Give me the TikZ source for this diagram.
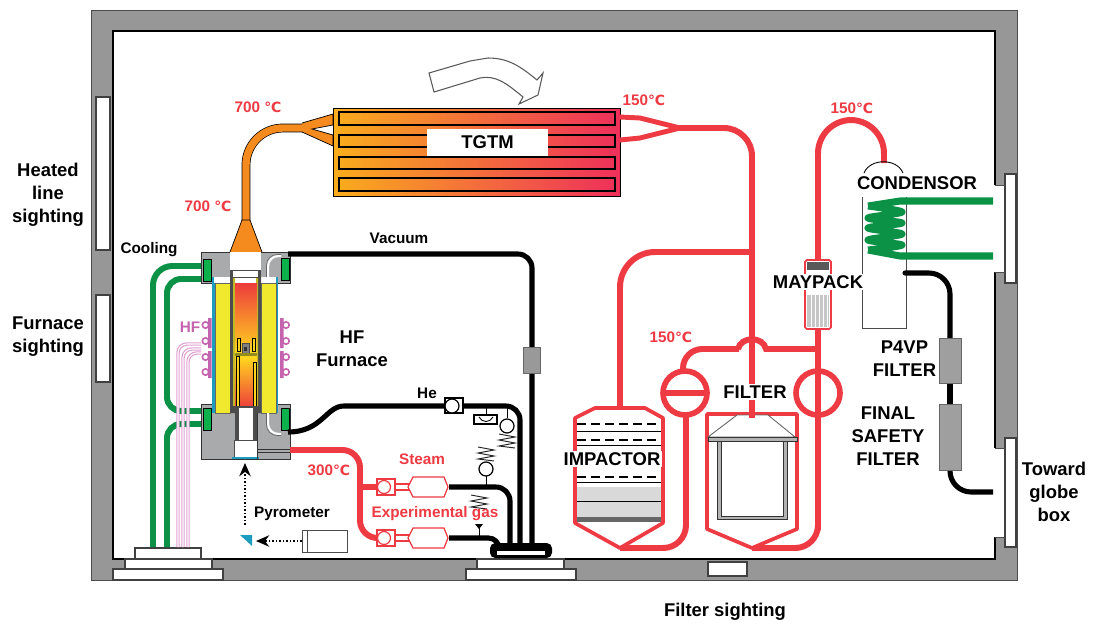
\documentclass[tikz,border=0pt]{standalone}
\usepackage{fontspec}
\setmainfont{Liberation Sans}
\newfontfamily\dgfont{DejaVu Sans}
\usepackage{tikz}
\usetikzlibrary{arrows.meta}
\definecolor{wallgray}{HTML}{979797}
\definecolor{steelgray}{HTML}{A8AAAB}
\definecolor{pipered}{HTML}{EE3A43}
\definecolor{pipegreen}{HTML}{0B9247}
\definecolor{boxgreen}{HTML}{0DB14B}
\definecolor{pipeorange}{HTML}{F58A1F}
\definecolor{hfpink}{HTML}{C663AE}
\definecolor{linepink}{HTML}{E29FD2}
\definecolor{coldorange}{HTML}{F9AD1C}
\definecolor{hotred}{HTML}{EE2F5B}
\definecolor{furnred}{HTML}{EE3B3C}
\definecolor{furnyellow}{HTML}{FFD41F}
\definecolor{heatyellow}{HTML}{F1E92D}
\definecolor{blueline}{HTML}{1C9DBF}
\tikzset{
	bigtext/.style={font=\fontsize{10.5}{12}\selectfont\bfseries,align=center,inner sep=1pt},
	smalltext/.style={font=\fontsize{8.7}{10}\selectfont\bfseries,inner sep=1pt},
	redtext/.style={smalltext,text=pipered},
	redpipe/.style={draw=pipered,line width=3.4pt,rounded corners=8pt},
	blackpipe/.style={draw=black,line width=2.9pt,rounded corners=8pt},
	greenpipe/.style={draw=pipegreen,line width=3.4pt,rounded corners=8pt},
	hfline/.style={draw=linepink,line width=.65pt,double=white,double distance=.65pt,rounded corners=5pt},
	windowbox/.style={draw=black!75,fill=white,line width=.6pt},
	thinred/.style={draw=pipered,line width=.7pt,fill=white},
	thinblack/.style={draw=black!80,line width=.5pt},
	filtergray/.style={draw=black!60,fill=gray!75,line width=.5pt},
	dotarrow/.style={-{Stealth[length=7.5pt,width=6.5pt]},line width=1pt,densely dotted}
}
\def\dg{{\dgfont\fontsize{8}{10}\selectfont ℃}}
\def\gasvalve(#1){%vanne + detendeur
	\draw[thinred] (377,#1-8) rectangle (395,#1+8);
	\draw[thinred] (384,#1) circle (6.5);
	\draw[thinred] (395,#1-3) rectangle (409,#1+3);
	\draw[thinred] (408,#1)--(413,#1-10)--(444,#1-10)--(448,#1)--(444,#1+10)--(413,#1+10)--cycle;
}
\def\spring(#1,#2){\draw[line width=.55pt,black!85,shift={(#1,#2)}] (-8,-7)--(8,-4)--(-8,-1)--(8,2)--(-8,5)--(8,7);}
\begin{document}
\begin{tikzpicture}[x=.02cm,y=-.02cm]
	\useasboundingbox (0,0) rectangle (1093,623);
	\fill[wallgray,draw=black!70,line width=.5pt] (91,10) rectangle (1017,580);%mur
	\draw[fill=white,line width=.7pt] (113,31) rectangle (995,559);
	\foreach \a/\b/\c/\d in{96/97/110/250,96/295/110/382,708/562/747/576,1005/174/1016/283,1005/438/1016/547}
		\draw[windowbox] (\a,\b) rectangle (\c,\d);
	\fill[white] (993,185) rectangle (1005,272) (993,448) rectangle (1005,537);
	\draw[windowbox] (1005,174) rectangle (1016,283) (1005,438) rectangle (1016,547);
	\draw[black!70,line width=.5pt] (995,185)--(1005,185) (995,272)--(1005,272) (995,448)--(1005,448) (995,537)--(1005,537);
	\draw[windowbox] (135,548) rectangle (201,559) (125,559) rectangle (212,569) (113,569) rectangle (223,580);
	\draw[windowbox] (477,559) rectangle (564,569) (466,569) rectangle (576,580);
	%--- eau de refroidissement
	\draw[greenpipe,rounded corners=11pt] (203,266)--(153,266)--(153,547);
	\draw[greenpipe] (203,279)--(167,279)--(167,411)--(203,411);
	\draw[greenpipe] (203,424)--(167,424)--(167,547);
	\foreach \y/\x in{344/178,349/183,353/188} \draw[hfline] (201,\y)--(\x,\y)--(\x,547);
	%--- ligne haute : orange
	\draw[black,line width=.4pt,double=pipeorange,double distance=4.2pt,rounded corners=21pt] (246,224)--(246,128)--(304,128);
	\draw[fill=pipeorange,line width=.4pt] (302,123)--(333,114)--(333,125)--(312,129)--(333,135)--(333,146)--(302,132);
	\draw[fill=pipeorange,line width=.4pt] (230,252)--(242,220)--(250,220)--(262,252);
	%--- TGTM
	\draw[left color=coldorange,right color=hotred,line width=.5pt] (333,108) rectangle (620,196);
	\foreach \a/\b in{112/125,135/147,157/169,178/191} \draw[line width=.9pt] (339,\a) rectangle (615,\b);
	\node[fill=white,minimum width=2.42cm,minimum height=.54cm,bigtext] (tgtm) at (487.5,142.5) {TGTM};
	\draw[fill=white,draw=black!65,line width=.6pt] (429,73)--(434,92)--(480,78) .. controls (496,75) and (506,83) .. (523,97)--(519,104)--(538,95)--(543,73)--(537,80) .. controls (520,66) and (508,58) .. (488,58)--(470,61)--cycle;%fleche
	%--- ligne rouge apres TGTM
	\draw[pipered,line width=2.8pt] (620,117)--(640,118)--(680,128) (620,140)--(640,138)--(680,128);
	\draw[redpipe,rounded corners=16pt] (678,128)--(752,128)--(752,420);
	\draw[redpipe,rounded corners=20pt] (752,252)--(620,252)--(620,410);
	\draw[redpipe,rounded corners=19pt] (818,530)--(818,120)--(884,120)--(884,163);
	\draw[redpipe,rounded corners=11pt] (683,372)--(683,349)--(739,349);
	\draw[pipered,line width=3.4pt] (738,349) .. controls (741,336) and (763,336) .. (766,349)--(818,349);
	\draw[redpipe,rounded corners=13pt] (620,548)--(686,548)--(686,412);
	\draw[redpipe,rounded corners=13pt] (752,548)--(818,548)--(818,510);
	\draw[pipered,line width=3.2pt,fill=white] (685,393) circle (22);
	\draw[pipered,line width=3.4pt] (663,393)--(707,393);
	\draw[pipered,line width=3.2pt] (818,393) circle (22);
	\draw[pipered,line width=3.4pt] (818,371)--(818,415);
	%--- impacteur
	\draw[pipered,line width=2.1pt,fill=white,line join=round] (575,418)--(595,408)--(645,408)--(663,418)--(663,523)--(620,548)--(575,523)--cycle;
	\fill[gray!30] (577,487) rectangle (661,521);
	\fill[black!60] (577,517) rectangle (661,522);
	\foreach \x in{587,600,613,626,639,652} \draw[white!70!gray,line width=.6pt] (\x,487)--(\x,517);
	\draw[line width=.5pt] (577,501)--(661,501) (577,431)--(661,431) (577,445)--(661,445) (577,482)--(661,482);
	\draw[line width=.8pt,dash pattern=on 5pt off 3pt] (577,424)--(661,424) (577,440)--(661,440) (577,477)--(661,477);
	%--- filtre
	\draw[pipered,line width=2.1pt,fill=white,line join=round] (707,414)--(797,414)--(797,529)--(752,548)--(707,529)--cycle;
	\draw[fill=white,draw=black!60,line width=.5pt] (737,415)--(768,415)--(795,437)--(708,437)--cycle;
	\draw[fill=gray!60,draw=black!80,line width=.5pt] (708,437) rectangle (797,441);
	\draw[fill=gray!60,draw=black!80,line width=.5pt] (717,441) rectangle (787,519);
	\draw[fill=white,draw=black!80,line width=.5pt] (721,441) rectangle (783,516);
	\draw[pipered,line width=3.4pt] (752,405)--(752,418);
	%--- maypack
	\draw[pipered,line width=1pt,fill=white,rounded corners=1pt] (805,260) rectangle (831,329);
	\fill[gray!70!black] (807,262) rectangle (829,270);
	\fill[gray!45] (807,295) rectangle (829,327);
	\foreach \x in{811,815,819,823,827} \draw[white,line width=.5pt] (\x,295)--(\x,327);
	%--- condenseur
	\draw[black!70,line width=.5pt] (862,197)--(862,328)--(906,328)--(906,197);
	\draw[line width=.5pt] (864,173) .. controls (870,158) and (897,158) .. (903,173);
	\draw[pipegreen,line width=4pt,line join=round] (993,201)--(900,201)--(868,206)
		plot[smooth,tension=.5] coordinates{(868,206)(902,212)(868,218)(902,223)(868,228)(902,234)(868,240)(902,245)(868,250)}
		(868,250)--(900,256)--(993,256);
	\draw[blackpipe,rounded corners=12pt,line cap=round] (905,273)--(950,273)--(950,340);
	\draw[blackpipe] (950,380)--(950,406);
	\draw[blackpipe,rounded corners=12pt] (950,468)--(950,492)--(993,492);
	\draw[filtergray] (939,338) rectangle (961,383);
	\draw[filtergray] (939,404) rectangle (961,470);
	%--- four HF
	\draw[fill=steelgray,draw=black!80,line width=.5pt] (201,252) rectangle (290,283);
	\draw[fill=steelgray,draw=black!80,line width=.5pt] (201,404) rectangle (290,459);
	\fill[blueline] (212,277) rectangle (278,413);
	\fill[white] (214,277) rectangle (276,283);
	\draw[fill=heatyellow,draw=black!60,line width=.3pt] (215,283) rectangle (230,413) (261,283) rectangle (276,413);
	\fill[black!70] (230,277) rectangle (233,408) (258,277) rectangle (261,408);
	\fill[heatyellow!80!black] (233,277) rectangle (235,408) (256,277) rectangle (258,408);
	\fill[white] (230,252) rectangle (261,270);
	\fill[black!70] (230,270) rectangle (261,278);
	\fill[white] (233,271) rectangle (258,277);
	\shade[top color=furnred,bottom color=furnyellow] (235,283) rectangle (257,352);
	\fill[furnyellow] (235,352) rectangle (257,358);
	\shade[top color=furnyellow,bottom color=furnred] (235,358) rectangle (257,408);
	%suscepteur et creuset
	\foreach \x in{237,252} \draw[fill=furnyellow,line width=.4pt] (\x,338) rectangle (\x+3,351);
	\draw[fill=gray,draw=black!70,line width=.3pt] (242,343) rectangle (249,353);
	\fill[black!80] (244,347) rectangle (247,351);
	\fill[heatyellow!60!black] (235,353) rectangle (257,356);
	\draw[fill=furnyellow,line width=.4pt] (236,356) rectangle (239,408) (253,362) rectangle (256,408);
	\fill[black!70] (230,406) rectangle (261,413) (235,408) rectangle (239,440) (253,408) rectangle (257,440);
	\fill[white] (239,408) rectangle (253,440);
	\draw[fill=white,draw=black!70,line width=.3pt] (234,440) rectangle (257,458);
	\fill[blueline] (232,457) rectangle (259,459);
	\draw[black!80,line width=.5pt] (257,413)--(257,459) (257,449)--(290,449) (257,452)--(290,452);
	\draw[white,line width=1.2pt,rounded corners=6pt] (281,256)--(268,256)--(268,277) (268,413)--(268,434)--(281,434);
	\draw[black!60,line width=.3pt,rounded corners=6pt] (281,254.5)--(266.5,254.5)--(266.5,277) (266.5,413)--(266.5,435.5)--(281,435.5);
	\foreach \a/\b in{203/259,203/408,281/258,281/408} \draw[fill=boxgreen,line width=.4pt] (\a,\b) rectangle (\a+8,\b+22);
	%inducteur HF
	\foreach \x/\xb in{208/205.5,280/286}{
		\fill[hfpink] (\x,318) rectangle (\x+3.5,348) (\x,351) rectangle (\x+3.5,378);
		\foreach \y in{325,341,357,372} \draw[hfpink,fill=white,line width=.9pt] (\xb,\y) circle (3.2);
	}
	%--- ligne noire : vide, He, gaz
	\draw[blackpipe] (288,254)--(532,254)--(532,546);
	\draw[blackpipe] (288,432) .. controls (322,432) and (326,406) .. (358,406)--(520,406)--(520,546);
	\draw[blackpipe] (449,487)--(510,487)--(510,546);
	\draw[blackpipe,rounded corners=6pt] (449,538)--(499,538)--(499,546);
	\draw[filtergray,fill=gray!80] (523,347) rectangle (540,373);
	\fill[black,rounded corners=3pt] (490,543) rectangle (552,558);
	\fill[white] (497,551) rectangle (545,555);
	%--- ligne rouge 300 C
	\draw[redpipe,rounded corners=10pt] (290,450)--(360,450)--(360,538)--(378,538);
	\draw[redpipe,rounded corners=0pt] (360,487)--(378,487);
	\gasvalve(487) \gasvalve(538)
	%--- He : organes de securite
	\draw[fill=white,line width=.6pt] (445,398) rectangle (463,413);
	\draw[fill=white,line width=.7pt] (452,406) circle (7);
	\draw[line width=.5pt] (486,406)--(486,415) (507,406)--(507,418) (486,462)--(486,487) (479,526)--(479,538);
	\draw[fill=white,line width=.6pt] (474,415) rectangle (497,424);
	\draw[line width=.5pt] (479,417) .. controls (482,423) and (490,423) .. (493,417);
	\draw[fill=white,line width=.7pt] (507,426) circle (7);
	\draw[fill=white,line width=.7pt] (486,469) circle (7);
	\fill (475,524)--(483,524)--(479,529)--cycle;
	\spring(507,441) \spring(486,454) \spring(479,502)
	%--- pyrometre
	\draw[dotarrow] (245,525)--(245,463);
	\draw[dotarrow] (302,541)--(256,541);
	\fill[blueline] (240,535)--(252,535)--(252,546)--cycle;
	\draw[fill=white,draw=black!70,line width=.5pt] (302,530) rectangle (307,552) (307,530) rectangle (347,552);
	%--- textes
	\node[bigtext] (heated) at (48,195) {Heated\\[1pt]line\\[1pt]sighting};
	\node[bigtext] (furnace) at (48,337) {Furnace\\[1pt]sighting};
	\node[bigtext] (hffurn) at (352,349) {HF\\[1pt]Furnace};
	\node[bigtext,fill=white] (condensor) at (917,183) {CONDENSOR};
	\node[bigtext,fill=white] (maypack) at (818,282) {MAYPACK};
	\node[bigtext,fill=white] (impactor) at (612,459) {IMPACTOR};
	\node[bigtext,fill=white] (filt) at (755,392) {FILTER};
	\node[bigtext] (p4vp) at (904.5,359) {P4VP\\[1pt]FILTER};
	\node[bigtext] (safety) at (888,436) {FINAL\\[1pt]SAFETY\\[1pt]FILTER};
	\node[bigtext] (globe) at (1054,492) {Toward\\[1pt]globe\\[1pt]box};
	\node[bigtext] (sight) at (725,612) {Filter sighting};
	\node[smalltext] (cooling) at (149,250) {Cooling};
	\node[smalltext] (vac) at (399,238) {Vacuum};
	\node[smalltext] (he) at (427,393) {He};
	\node[smalltext] (pyro) at (292,514) {Pyrometer};
	\node[smalltext,text=hfpink] (hf) at (190,327) {HF};
	\node[redtext] (steam) at (422,459) {Steam};
	\node[redtext] (expgas) at (435,514) {Experimental gas};
	\foreach \n/\p/\t in{ta/{258,107}/700 \dg,tb/{208,206}/700 \dg,tc/{644,100}/150\dg,td/{852,108}/150\dg,te/{671,337}/150\dg,tf/{329,470}/300\dg}
		\node[redtext] (\n) at (\p) {\t};
\end{tikzpicture}
\end{document}
